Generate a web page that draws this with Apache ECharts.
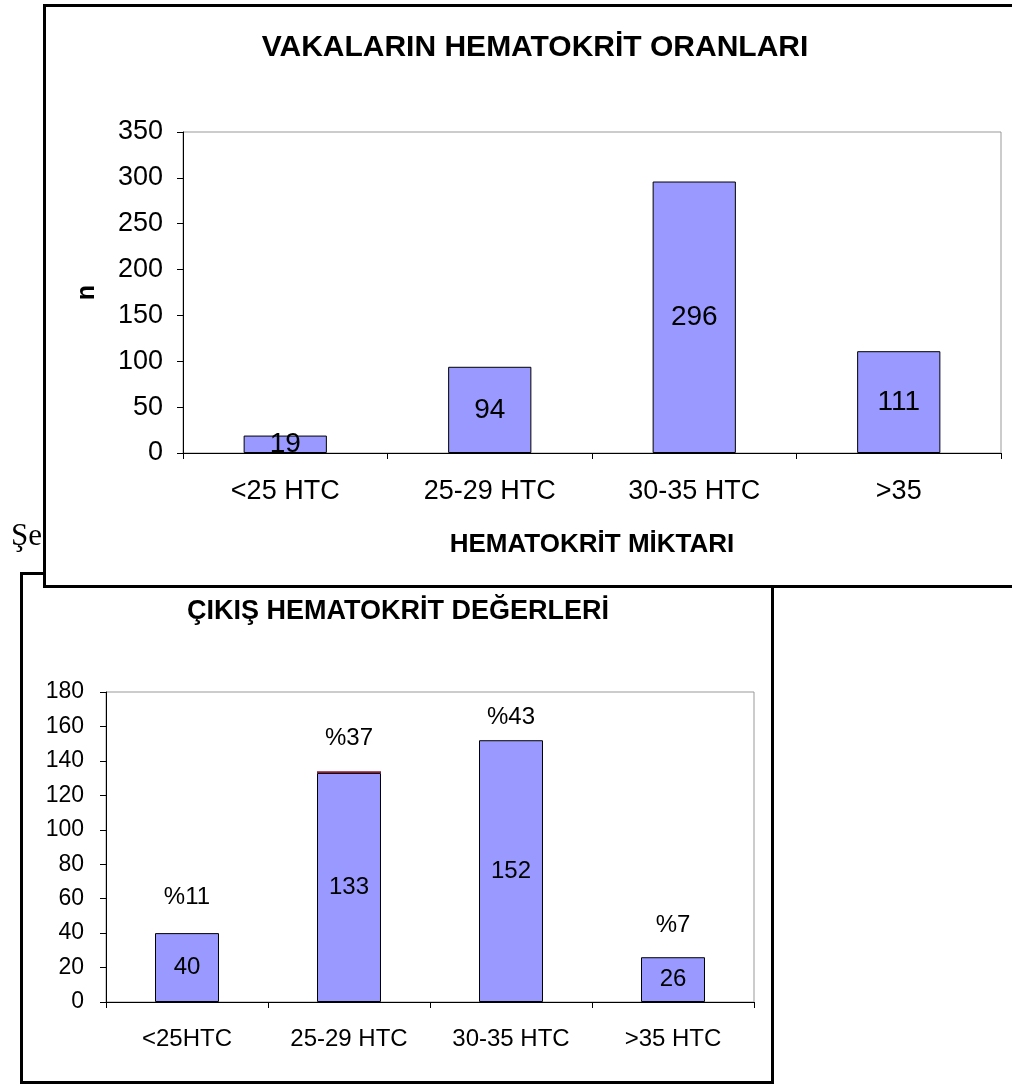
<!DOCTYPE html>
<html><head><meta charset="utf-8">
<script src="https://cdn.jsdelivr.net/npm/echarts@6/dist/echarts.min.js"></script>
<style>html,body{margin:0;padding:0;background:#fff}#c{width:1012px;height:1086px}</style>
</head><body><div id="c"></div>
<script>
// ---- data ----
const topTitle = 'VAKALARIN HEMATOKRİT ORANLARI';
const topCategories = ['<25 HTC', '25-29 HTC', '30-35 HTC', '>35'];
const topValues = [19, 94, 296, 111];
const topXName = 'HEMATOKRİT MİKTARI';
const topYName = 'n';
const topYTicks = {min: 0, max: 350, interval: 50};

const botTitle = 'ÇIKIŞ HEMATOKRİT DEĞERLERİ';
const botCategories = ['<25HTC', '25-29 HTC', '30-35 HTC', '>35 HTC'];
const botValues = [40, 133, 152, 26];
const botTopValues = [0, 1, 0, 0];
const botPercents = ['%11', '%37', '%43', '%7'];
const botYTicks = {min: 0, max: 180, interval: 20};

const sideText = 'Şe';

// ---- chart ----
const FONT = 'Liberation Sans, Arial, sans-serif';
const chart = echarts.init(document.getElementById('c'), null, {renderer: 'canvas'});
const botTotals = botValues.map((v, i) => v + botTopValues[i]);
const pctDistance = [24, 21, 11, 20];

const axisBlack = {lineStyle: {color: '#000', width: 1}};

chart.setOption({
  animation: false,
  backgroundColor: '#fff',
  graphic: [
    {type: 'text', z: -30, left: 11, top: 521,
     style: {text: sideText, font: '31px "Liberation Serif", serif', fill: '#000'}},
    {type: 'rect', z: -20, shape: {x: 21.5, y: 573.5, width: 751, height: 509},
     style: {fill: '#fff', stroke: '#000', lineWidth: 3}},
    {type: 'rect', z: -10, shape: {x: 44.5, y: 5.5, width: 1000, height: 581},
     style: {fill: '#fff', stroke: '#000', lineWidth: 3}},
    {type: 'text', z: 5, x: 535, y: 48,
     style: {text: topTitle, font: 'bold 30px ' + FONT, fill: '#000', textAlign: 'center', textVerticalAlign: 'middle'}},
    {type: 'text', z: 5, x: 398, y: 612,
     style: {text: botTitle, font: 'bold 27px ' + FONT, fill: '#000', textAlign: 'center', textVerticalAlign: 'middle'}}
  ],
  grid: [
    {left: 183, top: 132, width: 818, height: 321, show: true, borderColor: '#999', borderWidth: 1, backgroundColor: 'transparent'},
    {left: 106, top: 692, width: 648, height: 310, show: true, borderColor: '#999', borderWidth: 1, backgroundColor: 'transparent'}
  ],
  xAxis: [
    {gridIndex: 0, type: 'category', data: topCategories,
     axisLine: axisBlack, axisTick: {show: true, length: 6, lineStyle: {color: '#000'}},
     axisLabel: {color: '#000', fontSize: 27, fontFamily: FONT, margin: 25},
     name: topXName, nameLocation: 'middle', nameGap: 79,
     nameTextStyle: {color: '#000', fontWeight: 'bold', fontSize: 26, fontFamily: FONT},
     splitLine: {show: false}},
    {gridIndex: 1, type: 'category', data: botCategories,
     axisLine: axisBlack, axisTick: {show: true, length: 6, lineStyle: {color: '#000'}},
     axisLabel: {color: '#000', fontSize: 24, fontFamily: FONT, margin: 25},
     splitLine: {show: false}}
  ],
  yAxis: [
    {gridIndex: 0, type: 'value', min: topYTicks.min, max: topYTicks.max, interval: topYTicks.interval,
     axisLine: {show: true, lineStyle: {color: '#000'}}, axisTick: {show: true, length: 6, lineStyle: {color: '#000'}},
     axisLabel: {color: '#000', fontSize: 27, fontFamily: FONT, margin: 20},
     splitLine: {show: false},
     name: topYName, nameLocation: 'middle', nameGap: 83, nameRotate: 90,
     nameTextStyle: {color: '#000', fontWeight: 'bold', fontSize: 25, fontFamily: FONT}},
    {gridIndex: 1, type: 'value', min: botYTicks.min, max: botYTicks.max, interval: botYTicks.interval,
     axisLine: {show: true, lineStyle: {color: '#000'}}, axisTick: {show: true, length: 6, lineStyle: {color: '#000'}},
     axisLabel: {color: '#000', fontSize: 23, fontFamily: FONT, margin: 22},
     splitLine: {show: false}}
  ],
  series: [
    {type: 'bar', xAxisIndex: 0, yAxisIndex: 0, data: topValues, barWidth: '40.7%',
     itemStyle: {color: '#9999FF', borderColor: '#000', borderWidth: 1},
     label: {show: true, position: 'inside', color: '#000', fontSize: 28, fontFamily: FONT}},
    {type: 'bar', xAxisIndex: 1, yAxisIndex: 1, data: botValues, stack: 'b', barWidth: '39.5%', barGap: '-100%',
     itemStyle: {color: '#9999FF', borderColor: '#000', borderWidth: 1},
     label: {show: true, position: 'inside', color: '#000', fontSize: 24, fontFamily: FONT}},
    {type: 'bar', xAxisIndex: 1, yAxisIndex: 1, data: botTopValues, stack: 'b', barWidth: '39.5%', barGap: '-100%',
     itemStyle: {color: '#8B1A3A', borderWidth: 0},
     label: {show: false}},
    {type: 'bar', xAxisIndex: 1, yAxisIndex: 1, barWidth: '39.5%', barGap: '-100%', silent: true,
     data: botTotals.map((v, i) => ({value: v, label: {distance: pctDistance[i]}})),
     itemStyle: {color: 'rgba(0,0,0,0)', borderWidth: 0},
     label: {show: true, position: 'top', color: '#000', fontSize: 24, fontFamily: FONT,
             formatter: p => botPercents[p.dataIndex]}}
  ]
});
</script>
</body></html>
